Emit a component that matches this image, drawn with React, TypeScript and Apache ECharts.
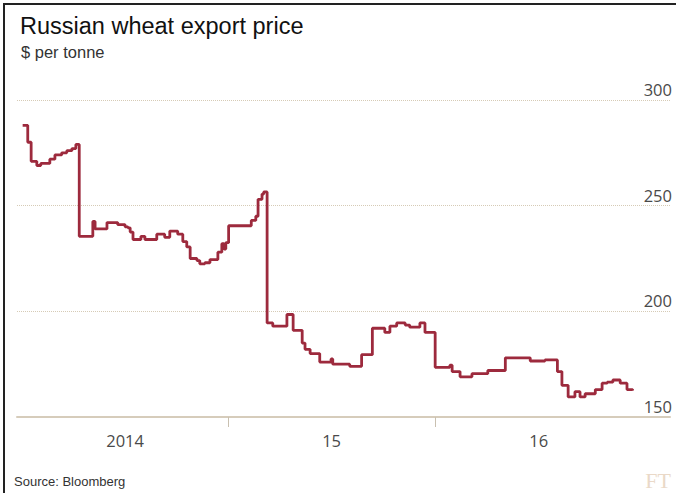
import React, { useEffect, useRef } from "react";
import * as echarts from "echarts";

const dates = [
  "2014-01-02", "2014-01-11", "2014-01-17", "2014-01-27", "2014-02-03", "2014-02-19",
  "2014-02-28", "2014-03-12", "2014-03-21", "2014-03-30", "2014-04-06", "2014-04-12",
  "2014-05-06", "2014-05-10", "2014-05-31", "2014-06-19", "2014-07-02", "2014-07-07",
  "2014-07-11", "2014-07-16", "2014-07-30", "2014-08-06", "2014-08-27", "2014-09-10",
  "2014-09-19", "2014-10-03", "2014-10-12", "2014-10-19", "2014-10-25", "2014-11-06",
  "2014-11-11", "2014-11-20", "2014-11-29", "2014-12-13", "2014-12-20", "2014-12-24",
  "2014-12-27", "2015-01-01", "2015-02-10", "2015-02-18", "2015-02-22", "2015-03-01",
  "2015-03-04", "2015-03-10", "2015-03-20", "2015-04-14", "2015-04-25", "2015-05-11",
  "2015-05-16", "2015-05-25", "2015-06-11", "2015-07-01", "2015-07-04", "2015-08-03",
  "2015-08-24", "2015-09-12", "2015-10-04", "2015-10-13", "2015-10-25", "2015-11-09",
  "2015-11-17", "2015-12-05", "2015-12-14", "2016-01-01", "2016-01-27", "2016-01-31",
  "2016-02-14", "2016-03-06", "2016-04-03", "2016-05-04", "2016-06-17", "2016-07-13",
  "2016-08-04", "2016-08-12", "2016-08-23", "2016-09-04", "2016-09-13", "2016-09-22",
  "2016-10-10", "2016-10-22", "2016-10-31", "2016-11-10", "2016-11-23", "2016-12-05",
  "2016-12-15",
];

const prices = [
  288, 280, 271, 269, 270, 272,
  274, 275, 276, 277, 279, 235.5,
  242.5, 239, 242, 241, 240, 239.5,
  237.5, 234, 235.5, 234, 236.5, 235,
  238, 236.5, 233, 230.5, 225, 224,
  222.5, 223, 224.5, 228, 232, 229.5,
  232.5, 240.5, 243, 245, 253, 255.5,
  256.5, 194.5, 193, 198.5, 191, 185,
  182, 180, 176, 177.5, 175, 174,
  179.5, 192, 190, 193, 194.5, 193.5,
  192.5, 194.5, 190, 173.5, 174.5, 171.5,
  169, 170.5, 172, 178, 176.5, 177,
  171.5, 165, 159.5, 162, 159.5, 161,
  163, 166, 166.5, 167.5, 166, 163,
  162.5,
];

const yearTicks = ["2015-01-01", "2016-01-01"];
const yearLabelDates = ["2014-07-02", "2015-07-02", "2016-07-02"];
const yearLabels = ["2014", "15", "16"];
const yTicks = [150, 200, 250, 300];

const title = "Russian wheat export price";
const subtitle = "$ per tonne";
const source = "Source: Bloomberg";

const ts = (d: string) => new Date(d + "T00:00:00Z").getTime();

export default function App() {
  const ref = useRef<HTMLDivElement>(null);
  useEffect(() => {
    if (!ref.current) return;
    const chart = echarts.init(ref.current, undefined, { renderer: "svg" });
    const labelTs = yearLabelDates.map(ts);
    chart.setOption({
      animation: false,
      backgroundColor: "#ffffff",
      title: [
        {
          text: title,
          left: 15,
          top: 9,
          textStyle: { fontFamily: "Liberation Sans", fontSize: 23.5, fontWeight: "normal", color: "#111111" },
        },
        {
          text: subtitle,
          left: 16,
          top: 38,
          textStyle: { fontFamily: "Liberation Sans", fontSize: 16.5, fontWeight: "normal", color: "#333333" },
        },
      ],
      graphic: [
        { type: "line", shape: { x1: 4, y1: 4, x2: 676, y2: 4 }, style: { stroke: "#222", lineWidth: 2 } },
        { type: "line", shape: { x1: 4, y1: 3, x2: 4, y2: 493 }, style: { stroke: "#222", lineWidth: 2 } },
        {
          type: "text",
          left: 14,
          top: 475,
          style: { text: source, fontFamily: "Liberation Sans", fontSize: 13, fill: "#333333" },
        },
        {
          type: "text",
          right: 5,
          top: 469,
          style: { text: "FT", fontFamily: "Liberation Serif", fontSize: 22, fill: "#ead9c8" },
        },
      ],
      grid: { left: 17, right: 6, top: 100, bottom: 76, containLabel: false },
      xAxis: {
        type: "value",
        min: ts("2013-12-23"),
        max: ts("2017-02-19"),
        axisLine: { show: true, lineStyle: { color: "#d6ccbb", width: 2 } },
        axisTick: {
          show: true,
          customValues: yearTicks.map(ts),
          length: 10,
          lineStyle: { color: "#c9c0b0", width: 1 },
        },
        axisLabel: {
          customValues: labelTs,
          formatter: (v: number) => {
            const i = labelTs.indexOf(v);
            return i >= 0 ? yearLabels[i] : "";
          },
          margin: 15,
          fontFamily: "Open Sans",
          fontSize: 16.5,
          color: "#4a4a4a",
        },
        splitLine: { show: false },
      },
      yAxis: {
        type: "value",
        position: "right",
        min: yTicks[0],
        max: yTicks[yTicks.length - 1],
        interval: 50,
        axisLine: { show: false },
        axisTick: { show: false },
        axisLabel: {
          inside: true,
          margin: -2,
          verticalAlign: "bottom",
          padding: [0, 0, 2, 0],
          fontFamily: "Open Sans",
          fontSize: 16.5,
          color: "#4a4a4a",
        },
        splitLine: { show: true, lineStyle: { type: "dotted", color: "#d6cbb6", width: 1 } },
      },
      series: [
        {
          type: "line",
          step: "end",
          showSymbol: false,
          data: dates.map((d, i) => [ts(d), prices[i]]),
          lineStyle: { color: "#9d2a3d", width: 2.8 },
        },
      ],
    });
    return () => chart.dispose();
  }, []);
  return <div ref={ref} style={{ position: "fixed", left: 0, top: 0, width: 676, height: 493 }} />;
}
